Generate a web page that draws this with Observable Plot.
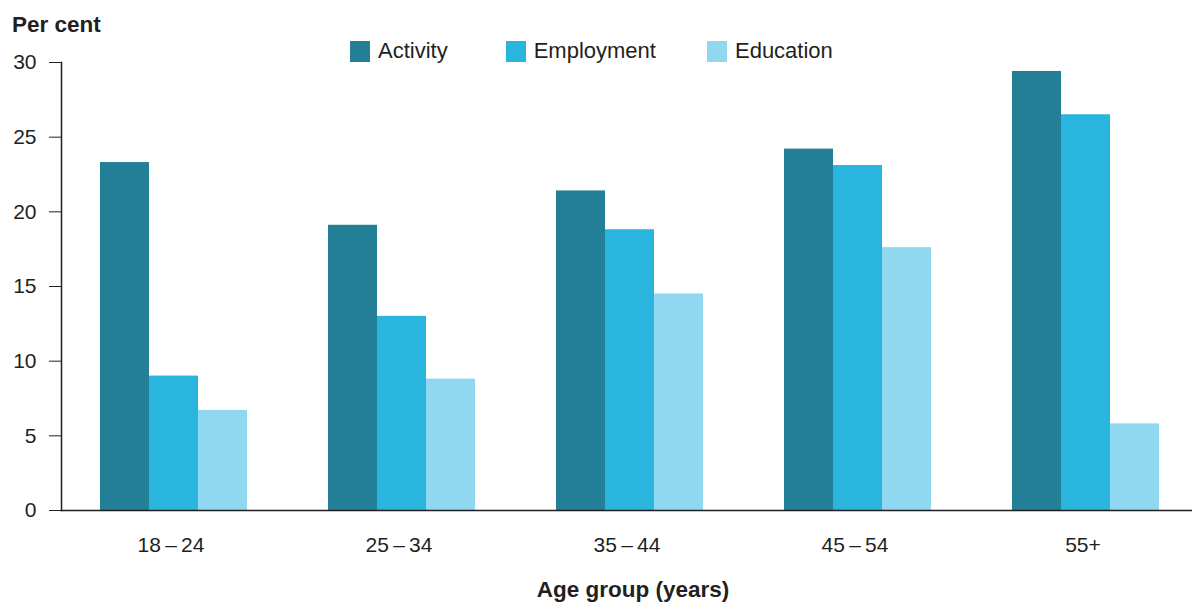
<!DOCTYPE html>
<html><head><meta charset="utf-8">
<script src="https://cdn.jsdelivr.net/npm/d3@7"></script>
<script src="https://cdn.jsdelivr.net/npm/@observablehq/plot@0.6"></script>
<style>
body{margin:0;background:#fff;font-family:"Liberation Sans",Arial,sans-serif;color:#231f20}
#wrap{position:relative;width:1192px;height:603px;overflow:hidden}
#wrap svg{position:absolute;left:0;top:0}
#ytitle{position:absolute;left:12px;top:12px;font-weight:bold;font-size:22.5px;line-height:26px}
#legend{position:absolute;top:38px;left:350px;display:flex;align-items:center;font-size:22px;line-height:26px}
#legend .item{display:flex;align-items:center;margin-right:58px}
#legend .item:nth-child(2){margin-right:51px}
#legend .sw{width:20px;height:21px;margin-right:8px}
#xtitle{position:absolute;top:577px;left:433px;width:400px;text-align:center;font-weight:bold;font-size:22.5px;line-height:26px}
</style>
</head><body>
<div id="wrap">
  <div id="ytitle">Per cent</div>
  <div id="legend"></div>
  <div id="xtitle">Age group (years)</div>
</div>
<script>
const groups = ["18\u2009–\u200924", "25\u2009–\u200934", "35\u2009–\u200944", "45\u2009–\u200954", "55+"];
const series = ["Activity", "Employment", "Education"];
const activity = [23.3, 19.1, 21.4, 24.2, 29.4];
const employment = [9.0, 13.0, 18.8, 23.1, 26.5];
const education = [6.7, 8.8, 14.5, 17.6, 5.8];
const colors = ["#237f96", "#29b5de", "#8fd8f0"];
const yTicks = [0, 5, 10, 15, 20, 25, 30];

const valuesBySeries = {Activity: activity, Employment: employment, Education: education};
const data = [];
groups.forEach((g, i) => series.forEach(s => data.push({group: g, series: s, value: valuesBySeries[s][i]})));

const plot = Plot.plot({
  width: 1192,
  height: 603,
  marginLeft: 60,
  marginRight: 0,
  marginTop: 62,
  marginBottom: 93,
  style: {fontFamily: '"Liberation Sans", Arial, sans-serif', fontSize: "21px", color: "#231f20", background: "transparent"},
  facet: {data, x: "group"},
  fx: {domain: groups, paddingInner: 0.041, paddingOuter: 0, label: null, tickSize: 0, tickPadding: 27},
  x: {domain: series, axis: null, paddingInner: 0, paddingOuter: 0.719, align: 0.536},
  y: {domain: [0, 30], ticks: yTicks, tickSize: 12, tickPadding: 13, label: null, tickFormat: d => String(d)},
  color: {domain: series, range: colors},
  marks: [
    Plot.barY(data, {x: "series", y: "value", fill: "series"}),
    Plot.frame({anchor: "left", facet: "super", stroke: "#231f20", strokeWidth: 1.5}),
    Plot.frame({anchor: "bottom", facet: "super", stroke: "#231f20", strokeWidth: 1.5})
  ]
});
document.getElementById("wrap").appendChild(plot);

const color = plot.scale("color");
const legend = document.getElementById("legend");
series.forEach(s => {
  const it = document.createElement("div");
  it.className = "item";
  const sw = document.createElement("div");
  sw.className = "sw";
  sw.style.background = color.apply(s);
  const t = document.createElement("span");
  t.textContent = s;
  it.appendChild(sw); it.appendChild(t);
  legend.appendChild(it);
});
</script>
</body></html>
